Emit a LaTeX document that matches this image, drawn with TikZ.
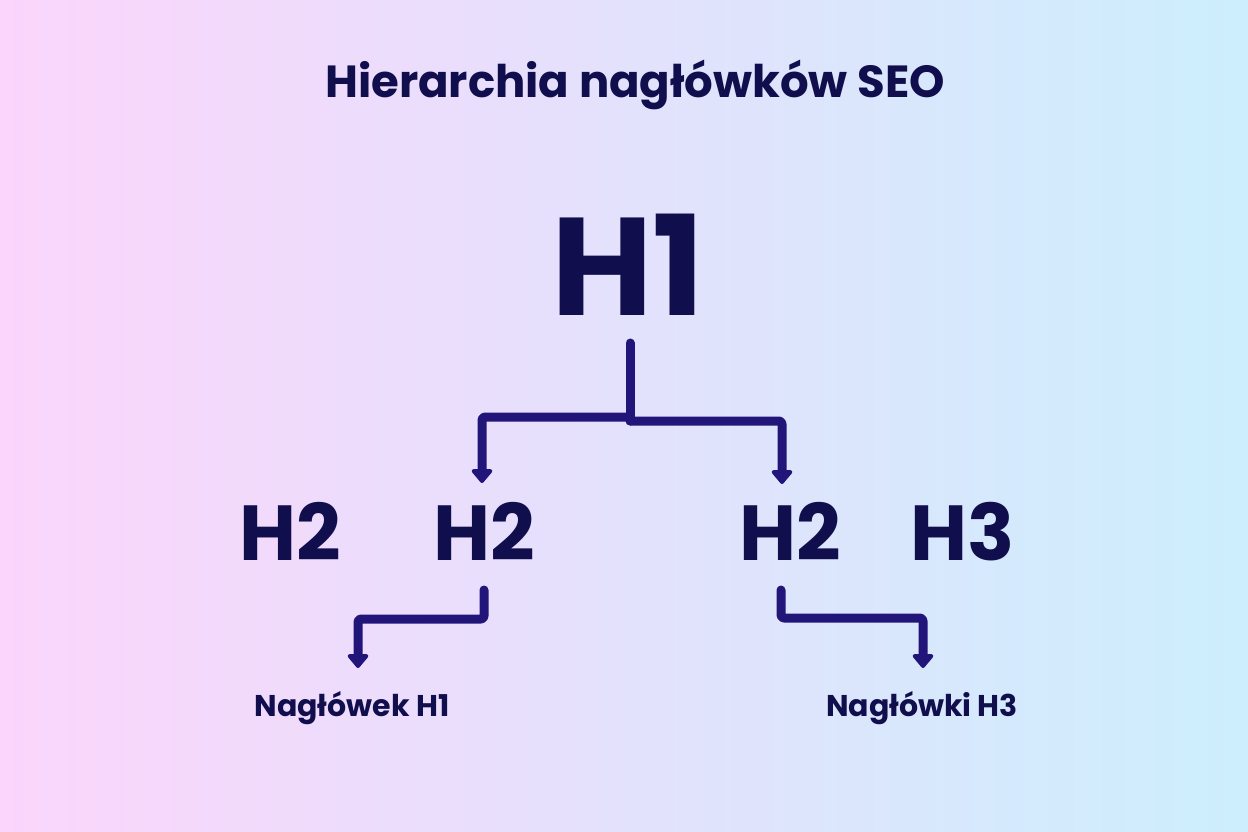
\documentclass[tikz,border=0pt]{standalone}
\usepackage{fontspec}
\setmainfont{Poppins}
\usetikzlibrary{arrows.meta}
\definecolor{bgL}{HTML}{FBD5FB}
\definecolor{bgM}{HTML}{E7E3FA}
\definecolor{bgR}{HTML}{CCEEFD}
\definecolor{ink}{HTML}{110E4E}
\definecolor{wire}{HTML}{22157A}
\tikzset{
  txt/.style={anchor=base, inner sep=0pt, text=ink, font=\bfseries},
  conn/.style={draw=wire, line width=9pt, rounded corners=3pt, line join=round, line cap=round,
    -{Triangle[width=24pt,length=15pt,round]}},
  link/.style={draw=wire, line width=9pt, rounded corners=3pt, line join=round, line cap=round}
}
\begin{document}
\begin{tikzpicture}[x=1pt,y=-1pt]
\useasboundingbox (0,0) rectangle (1248,832);
\fill[left color=bgL, middle color=bgM, right color=bgR] (0,0) rectangle (1248,832);

\node[txt, font=\bfseries\fontsize{45}{45}\selectfont] (title) at (635,98) {Hierarchia nagłówków SEO};
\node[txt, font=\bfseries\fontsize{139}{139}\selectfont] (h1) at (628,315) {H1};
\node[txt, font=\bfseries\fontsize{78}{78}\selectfont] (h2a) at (290,560) {H2};
\node[txt, font=\bfseries\fontsize{78}{78}\selectfont] (h2b) at (484,560) {H2};
\node[txt, font=\bfseries\fontsize{78}{78}\selectfont] (h2c) at (790,560) {H2};
\node[txt, font=\bfseries\fontsize{78}{78}\selectfont] (h3) at (963,560) {H3};
\node[txt, font=\bfseries\fontsize{30}{30}\selectfont] (lab1) at (352,716) {Nagłówek H1};
\node[txt, font=\bfseries\fontsize{30}{30}\selectfont] (lab3) at (922,716) {Nagłówki H3};

\coordinate (h1foot) at (630,343);
\coordinate (jl) at (630,417);
\coordinate (jr) at (630,421);
\coordinate (h2bhead) at (482,483);
\coordinate (h2chead) at (782,484);
\coordinate (h2bfoot) at (484,590);
\coordinate (h2cfoot) at (781,590);
\coordinate (lab1head) at (358,668);
\coordinate (lab3head) at (923,668);

\draw[link] (h1foot) -- (jr);
\draw[conn] (jl) -| (h2bhead);
\draw[conn] (jr) -| (h2chead);
\draw[conn] (h2bfoot) -- (484,619) -| (lab1head);
\draw[conn] (h2cfoot) -- (781,618) -| (lab3head);
\end{tikzpicture}
\end{document}
